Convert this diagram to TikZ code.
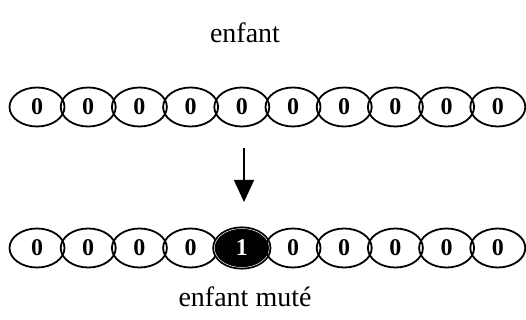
\documentclass[tikz,border=0pt]{standalone}
\usepackage{fontspec}
\setmainfont{Liberation Serif}
\usetikzlibrary{arrows.meta, shapes.geometric}
\tikzset{
    gene/.style={ellipse, draw, line width=1.8pt, minimum width=55pt, minimum height=39pt,
                 inner sep=0pt, font=\fontsize{24}{26}\selectfont\bfseries},
    mutant/.style={gene, fill=black, text=white, double=white, double distance=0.5pt},
    caption/.style={font=\fontsize{28}{32}\selectfont}
}
\begin{document}
\begin{tikzpicture}[x=1pt, y=-1pt]
    \useasboundingbox (0, 0) rectangle (526, 320);
    \node[caption] (t1) at (245, 33) {enfant};
    \foreach \i in {1,...,10} {
        \node[gene] (a\i) at ({37 + (\i-1)*51.2}, 107) {0};
    }
    \foreach \i in {1,...,10} {
        \ifnum\i=5
            \node[mutant] (b\i) at ({37 + (\i-1)*51.2}, 248) {1};
        \else
            \node[gene] (b\i) at ({37 + (\i-1)*51.2}, 248) {0};
        \fi
    }
    \coordinate (top) at (244, 148);
    \coordinate (bot) at (244, 202);
    \draw [-{Triangle[width=20pt, length=22pt]}, line width=1.5pt] (top) -- (bot);
    \node[caption] (t2) at (245, 297) {enfant muté};
\end{tikzpicture}
\end{document}
